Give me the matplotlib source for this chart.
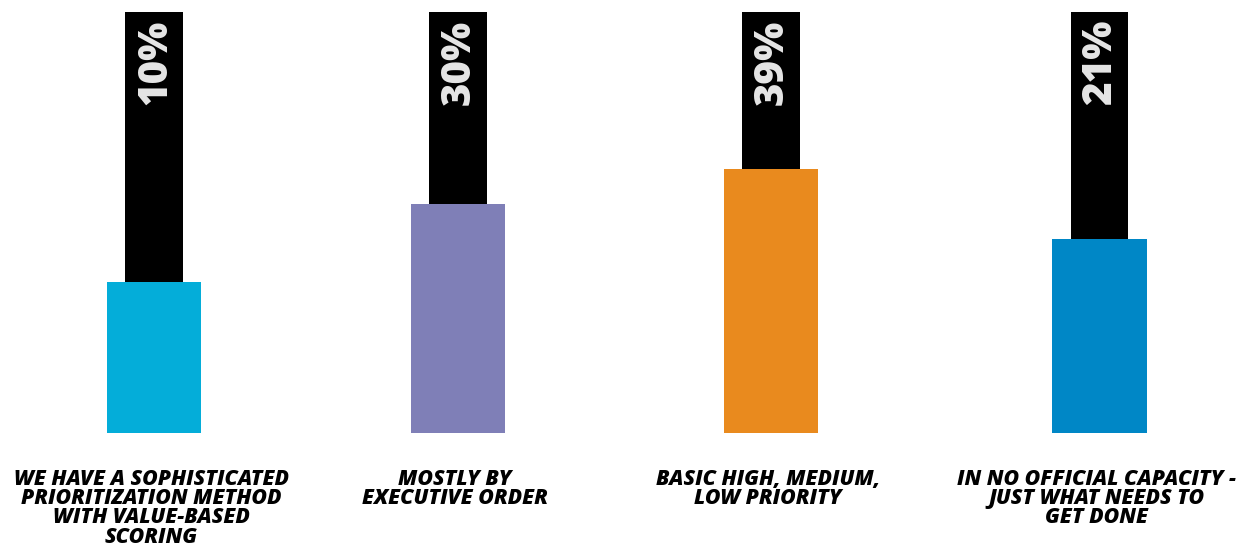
import matplotlib.pyplot as plt
import numpy as np

# values
categories = ["WE HAVE A SOPHISTICATED\nPRIORITIZATION METHOD\nWITH VALUE-BASED\nSCORING",
              "MOSTLY BY\nEXECUTIVE ORDER",
              "BASIC HIGH, MEDIUM,\nLOW PRIORITY",
              "IN NO OFFICIAL CAPACITY -\nJUST WHAT NEEDS TO\nGET DONE"]
values = [10, 30, 39, 21]
colors = ['#04ADD9', '#7F7FB7', '#E98A1E', '#0087C6']

xpos = [0, 1, 2.03, 3.11]
base = -29
top = 79.5

fig = plt.figure(figsize=(12.59, 5.5), dpi=100)
ax = fig.add_axes([0, 0, 1, 1])

vals = np.array(values)
# black stems
ax.bar(xpos, top - vals, bottom=vals, width=0.19, color='black')
# colored bars
ax.bar(xpos, vals - base, bottom=base, width=0.31, color=colors)

for x, v, lab in zip(xpos, values, categories):
    ax.text(x + 0.005, top - 2, f"{v}%", rotation=90, ha='center', va='top',
            color='#E6E6E6', fontsize=29, fontweight='heavy', family='Open Sans')
    ax.text(x - 0.01, -38.2, lab, ha='center', va='top', color='black',
            fontsize=15.3, fontweight='heavy', fontstyle='italic',
            family='Open Sans', linespacing=0.9)

ax.set_xlim(-0.507, 3.635)
ax.set_ylim(-59.2, 82.6)
ax.axis('off')

fig.savefig('out.png', dpi=100, facecolor='white')
